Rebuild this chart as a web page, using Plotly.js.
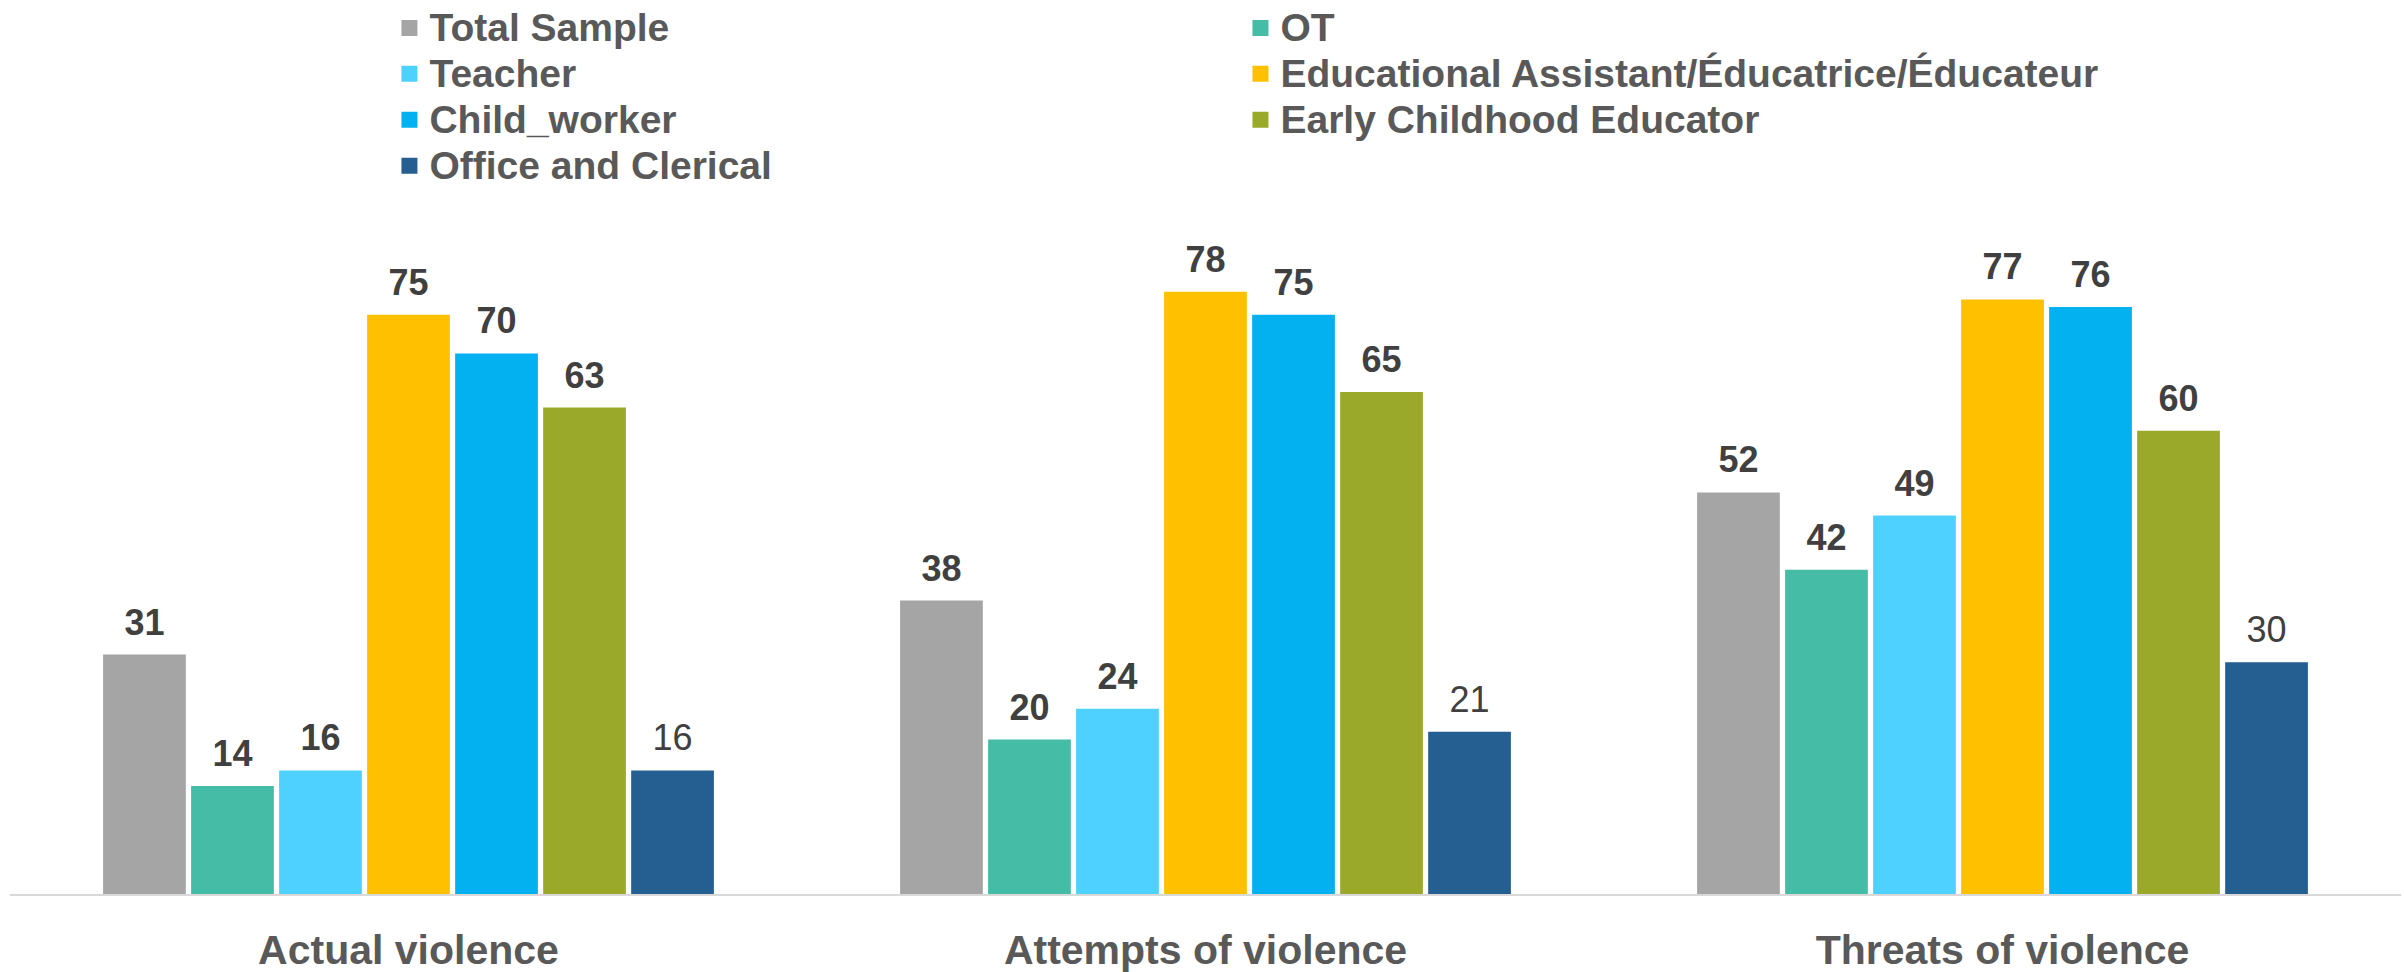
<!DOCTYPE html>
<html>
<head>
<meta charset="utf-8">
<script src="https://cdn.plot.ly/plotly-3.0.1.min.js"></script>
<style>html,body{margin:0;padding:0;background:#fff;}#chart{width:2404px;height:972px;}</style>
</head>
<body>
<div id="chart"></div>
<script>
const categories = ["Actual violence", "Attempts of violence", "Threats of violence"];
const seriesNames = ["Total Sample", "OT", "Teacher", "Educational Assistant/Éducatrice/Éducateur", "Child_worker", "Early Childhood Educator", "Office and Clerical"];
const totalSample = [31, 38, 52];
const ot = [14, 20, 42];
const teacher = [16, 24, 49];
const educationalAssistant = [75, 78, 77];
const childWorker = [70, 75, 76];
const earlyChildhood = [63, 65, 60];
const officeClerical = [16, 21, 30];
const seriesValues = [totalSample, ot, teacher, educationalAssistant, childWorker, earlyChildhood, officeClerical];
const colors = ["#A5A5A5", "#45BCA6", "#4FD1FF", "#FFC000", "#03B0F0", "#9AA92A", "#255E91"];
const labelWeights = ["bold", "bold", "bold", "bold", "bold", "bold", "normal"];
// legend column of each series (two-column legend, read row by row)
const legendColumn = ["legend", "legend2", "legend", "legend2", "legend", "legend2", "legend"];

const FONT = "Liberation Sans, Arial, sans-serif";
const traces = [];
seriesValues.forEach((vals, i) => {
  traces.push({
    type: "bar",
    name: seriesNames[i],
    x: categories,
    y: vals,
    offsetgroup: String(i),
    showlegend: false,
    marker: {color: colors[i], line: {width: 0}},
    hoverinfo: "name+y"
  });
});
seriesValues.forEach((vals, i) => {
  traces.push({
    type: "scatter",
    mode: "markers+text",
    x: categories,
    y: vals,
    offsetgroup: String(i),
    showlegend: false,
    hoverinfo: "skip",
    cliponaxis: false,
    marker: {size: 16, opacity: 0},
    text: vals.map(String),
    textposition: "top center",
    textfont: {family: FONT, size: 36, color: "#404040", weight: labelWeights[i]}
  });
});
// legend entries (square keys), on a hidden overlaying axis pair so they do not affect grouping
seriesNames.forEach((name, i) => {
  traces.push({
    type: "scatter",
    mode: "markers",
    name: '<span style="font-size:39px">' + name + '</span>',
    x: [null],
    y: [null],
    xaxis: "x2",
    yaxis: "y2",
    legend: legendColumn[i],
    showlegend: true,
    hoverinfo: "skip",
    marker: {symbol: "square", size: 16, color: colors[i]}
  });
});

const legendBase = {
  orientation: "v",
  xref: "container",
  yref: "container",
  y: 1,
  xanchor: "left",
  yanchor: "top",
  itemsizing: "trace",
  traceorder: "normal",
  font: {family: FONT, size: 33, color: "#595959", weight: "bold"},
  itemclick: false
};

const layout = {
  width: 2404,
  height: 972,
  paper_bgcolor: "#ffffff",
  plot_bgcolor: "#ffffff",
  margin: {l: 10, r: 3, t: 199, b: 78, autoexpand: false},
  barmode: "group",
  scattermode: "group",
  bargap: 0.227,
  scattergap: 0.227,
  bargroupgap: 0.06,
  showlegend: true,
  legend: Object.assign({}, legendBase, {x: 0.162}),
  legend2: Object.assign({}, legendBase, {x: 0.516}),
  xaxis: {
    type: "category",
    showline: true,
    linecolor: "#D9D9D9",
    linewidth: 2,
    showgrid: false,
    zeroline: false,
    ticks: "",
    tickangle: 0,
    automargin: false,
    ticklabelstandoff: 19,
    tickfont: {family: FONT, size: 41, color: "#595959", weight: "bold"}
  },
  yaxis: {
    range: [0, 90],
    visible: false,
    automargin: false,
    showgrid: false,
    zeroline: false
  },
  xaxis2: {overlaying: "x", visible: false, range: [0, 1]},
  yaxis2: {overlaying: "y", visible: false, range: [0, 1]}
};

Plotly.newPlot("chart", traces, layout, {displayModeBar: false, staticPlot: true});
</script>
</body>
</html>
